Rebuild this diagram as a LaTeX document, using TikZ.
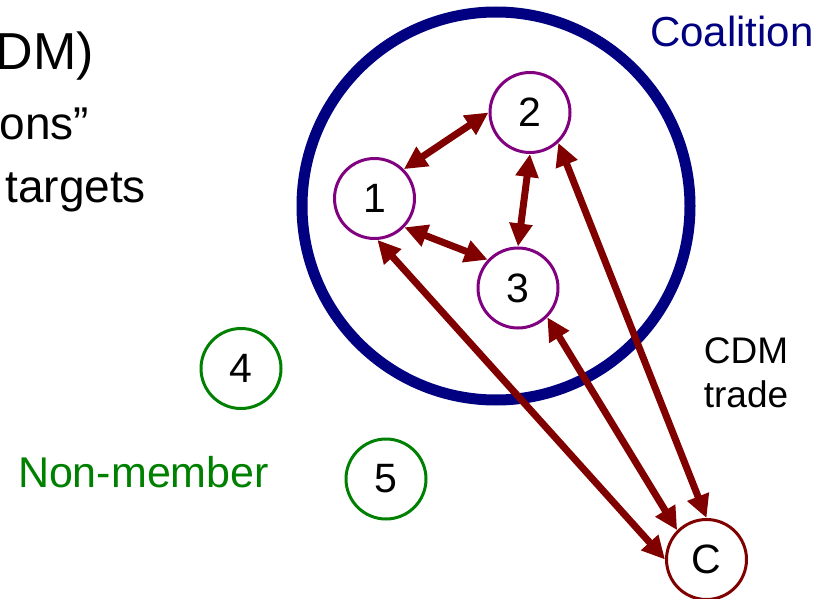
\documentclass[tikz,border=0pt]{standalone}
\usepackage{fontspec}
\setmainfont{Liberation Sans}
\usetikzlibrary{arrows.meta}
\definecolor{navyc}{RGB}{0,0,128}
\definecolor{purpc}{RGB}{128,0,128}
\definecolor{greenc}{RGB}{0,128,0}
\definecolor{redc}{RGB}{128,0,0}
\tikzset{
  member/.style={circle,draw=purpc,line width=3pt,minimum size=80pt,inner sep=0pt,font=\fontsize{41}{48}\selectfont},
  nonmember/.style={circle,draw=greenc,line width=3pt,minimum size=80pt,inner sep=0pt,font=\fontsize{41}{48}\selectfont},
  cnode/.style={circle,draw=redc,line width=3pt,minimum size=80pt,inner sep=0pt,font=\fontsize{41}{48}\selectfont},
  trade/.style={draw=redc,line width=7pt,{Triangle[length=23pt,width=22pt]}-{Triangle[length=23pt,width=22pt]}},
  txt/.style={inner sep=0pt,outer sep=0pt}
}
\begin{document}
\begin{tikzpicture}[x=1pt,y=-1pt]
\useasboundingbox (0,0) rectangle (833,599);
% coalition circle
\draw[navyc,line width=11pt] (496,206) circle[radius=194];
\node[txt,anchor=base west,text=navyc,font=\fontsize{42}{50}\selectfont] (coal) at (650,47) {Coalition};
% left text
\node[txt,anchor=base east,font=\fontsize{52}{60}\selectfont] (t1) at (94,70) {DM)};
\node[txt,anchor=base east,font=\fontsize{46}{54}\selectfont] (t2) at (89,140) {ons”};
\node[txt,anchor=base east,font=\fontsize{46}{54}\selectfont] (t3) at (146,203) {targets};
% nodes
\node[member] (n1) at (374.5,198.5) {1};
\node[member] (n2) at (530,112.5) {2};
\node[member] (n3) at (518,288) {3};
\node[nonmember] (n4) at (241,368.5) {4};
\node[nonmember] (n5) at (386,479) {5};
\node[cnode] (c) at (706.5,559.5) {C};
\node[txt,anchor=base west,text=greenc,font=\fontsize{43}{50}\selectfont] (nm) at (18,487) {Non-member};
\node[txt,anchor=base,font=\fontsize{37}{44}\selectfont] (cdm) at (746,363) {CDM};
\node[txt,anchor=base,font=\fontsize{37}{44}\selectfont] (tr) at (746,407) {trade};
% arrows
\draw[trade] (n1.45) -- (n2.180);
\draw[trade] (n1.-44) -- (n3.137);
\draw[trade] (n2.-90) -- (n3.90);
\draw[trade] (n1.-86) -- (c.180);
\draw[trade] (n2.-47) -- (c.90);
\draw[trade] (n3.-45) -- (c.135);
\end{tikzpicture}
\end{document}
